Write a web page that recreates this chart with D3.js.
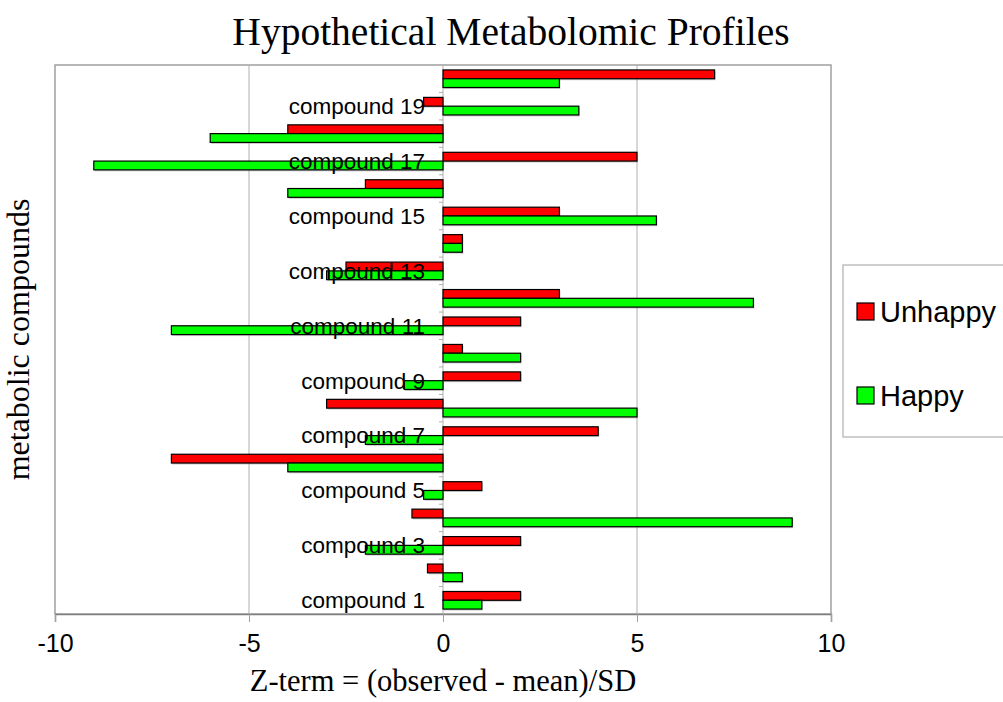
<!DOCTYPE html>
<html>
<head>
<meta charset="utf-8">
<script src="https://cdn.jsdelivr.net/npm/d3@7"></script>
<style>
  body { margin: 0; background: #fff; }
  svg { display: block; }
</style>
</head>
<body>
<div id="chart"></div>
<script>
var compounds = d3.range(1, 21).map(function(i) { return "compound " + i; });
var unhappy = [2, -0.4, 2, -0.8, 1, -7, 4, -3, 2, 0.5, 2, 3, -2.5, 0.5, 3, -2, 5, -4, -0.5, 7];
var happy   = [1, 0.5, -2, 9, -0.5, -4, -2, 5, -1, 2, -7, 8, -3, 0.5, 5.5, -4, -9, -6, 3.5, 3];
var seriesNames = ["Unhappy", "Happy"];
var seriesColors = ["#ff0000", "#00ff00"];
var xTicks = [-10, -5, 0, 5, 10];

var W = 1003, H = 702;
var margin = {top: 65, right: 172, bottom: 88, left: 55},
    width = W - margin.left - margin.right,
    height = H - margin.top - margin.bottom;

var svg = d3.select("#chart")
  .append("svg")
    .attr("width", W)
    .attr("height", H);

var g = svg.append("g")
    .attr("transform", "translate(" + margin.left + "," + margin.top + ")");

var x = d3.scaleLinear()
  .domain([-10, 10])
  .range([0, width]);

// compound 1 at the bottom
var y = d3.scaleBand()
  .domain(compounds.slice().reverse())
  .range([0, height])
  .paddingInner(0.36)
  .paddingOuter(0.18);

var y1 = d3.scaleBand()
  .domain(seriesNames)
  .range([0, y.bandwidth()]);

// frame
g.append("rect")
  .attr("width", width)
  .attr("height", height)
  .attr("fill", "none")
  .attr("stroke", "#a0a0a0")
  .attr("stroke-width", 1.5);

// gridlines
g.selectAll(".grid")
  .data([-5, 0, 5])
  .enter().append("line")
    .attr("x1", function(d) { return x(d); })
    .attr("x2", function(d) { return x(d); })
    .attr("y1", 0)
    .attr("y2", height)
    .attr("stroke", "#b0b0b0")
    .attr("stroke-width", 1);

// x axis
var xAxis = g.append("g")
  .attr("transform", "translate(0," + height + ")")
  .call(d3.axisBottom(x).tickValues(xTicks).tickSize(8).tickPadding(12)
    .tickFormat(function(d) { return String(d); }));
xAxis.select(".domain").attr("stroke", "#808080").attr("stroke-width", 1.5);
xAxis.selectAll(".tick line").attr("stroke", "#a0a0a0");
xAxis.selectAll("text")
  .attr("font-family", "Liberation Sans, Arial, sans-serif")
  .attr("font-size", 25)
  .attr("fill", "#000");

// y axis on the zero line: tick marks at category boundaries
var bandStep = height / compounds.length;
g.selectAll(".ytick")
  .data(d3.range(1, compounds.length))
  .enter().append("line")
    .attr("x1", x(0) - 4)
    .attr("x2", x(0))
    .attr("y1", function(d) { return d * bandStep; })
    .attr("y2", function(d) { return d * bandStep; })
    .attr("stroke", "#b0b0b0");

// bars
var rows = compounds.map(function(c, i) {
  return {name: c, values: [unhappy[i], happy[i]]};
});

var groups = g.selectAll(".row")
  .data(rows)
  .enter().append("g")
    .attr("transform", function(d) { return "translate(0," + y(d.name) + ")"; });

var barData = function(d) {
  return d.values.map(function(v, j) { return {key: seriesNames[j], value: v, color: seriesColors[j]}; });
};

// faint shadow
groups.selectAll(".shadow")
  .data(barData)
  .enter().append("rect")
    .attr("x", function(d) { return x(Math.min(0, d.value)) + 1; })
    .attr("y", function(d) { return y1(d.key) + 1.5; })
    .attr("width", function(d) { return Math.abs(x(d.value) - x(0)); })
    .attr("height", y1.bandwidth())
    .attr("fill", "#9a9a9a")
    .attr("opacity", 0.5);

groups.selectAll(".bar")
  .data(barData)
  .enter().append("rect")
    .attr("x", function(d) { return x(Math.min(0, d.value)); })
    .attr("y", function(d) { return y1(d.key); })
    .attr("width", function(d) { return Math.abs(x(d.value) - x(0)); })
    .attr("height", y1.bandwidth())
    .attr("fill", function(d) { return d.color; })
    .attr("stroke", "#000")
    .attr("stroke-width", 1.2);

// category labels (odd compounds only)
g.selectAll(".clabel")
  .data(compounds.filter(function(c, i) { return i % 2 === 0; }))
  .enter().append("text")
    .attr("x", x(0) - 18)
    .attr("y", function(d) { return y(d) + y.bandwidth() / 2; })
    .attr("dy", "0.35em")
    .attr("text-anchor", "end")
    .attr("font-family", "Liberation Sans, Arial, sans-serif")
    .attr("font-size", 22.5)
    .attr("fill", "#000")
    .text(function(d) { return d; });

// title
svg.append("text")
  .attr("x", 511)
  .attr("y", 45)
  .attr("text-anchor", "middle")
  .attr("font-family", "Liberation Serif, Times New Roman, serif")
  .attr("font-size", 39.5)
  .text("Hypothetical Metabolomic Profiles");

// axis titles
svg.append("text")
  .attr("x", margin.left + width / 2)
  .attr("y", 691)
  .attr("text-anchor", "middle")
  .attr("font-family", "Liberation Serif, Times New Roman, serif")
  .attr("font-size", 30.5)
  .text("Z-term = (observed - mean)/SD");

svg.append("text")
  .attr("transform", "translate(29," + (margin.top + height / 2) + ") rotate(-90)")
  .attr("text-anchor", "middle")
  .attr("font-family", "Liberation Serif, Times New Roman, serif")
  .attr("font-size", 32)
  .text("metabolic compounds");

// legend
var legend = svg.append("g").attr("transform", "translate(843,265)");
legend.append("rect")
  .attr("width", 170)
  .attr("height", 172)
  .attr("fill", "#fff")
  .attr("stroke", "#b0b0b0")
  .attr("stroke-width", 1.2);

var items = legend.selectAll(".item")
  .data(seriesNames)
  .enter().append("g")
    .attr("transform", function(d, i) { return "translate(14," + (38 + i * 84) + ")"; });
items.append("rect")
  .attr("width", 17)
  .attr("height", 17)
  .attr("fill", function(d, i) { return seriesColors[i]; })
  .attr("stroke", "#000")
  .attr("stroke-width", 1.2);
items.append("text")
  .attr("x", 23)
  .attr("y", 8.5)
  .attr("dy", "0.35em")
  .attr("font-family", "Liberation Sans, Arial, sans-serif")
  .attr("font-size", 29)
  .text(function(d) { return d; });
</script>
</body>
</html>
